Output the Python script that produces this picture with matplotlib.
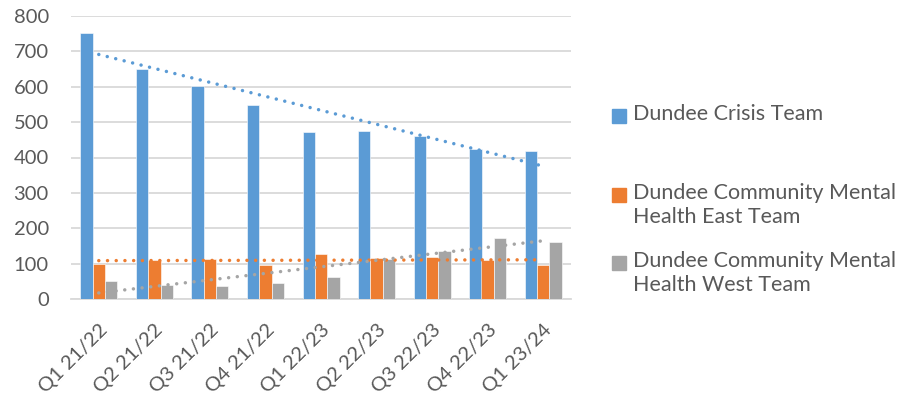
import matplotlib
matplotlib.use('Agg')

import matplotlib.pyplot as plt
import numpy as np
from matplotlib.patches import Rectangle

plt.rcParams['font.family'] = ['Lato', 'DejaVu Sans']

# data
quarters = ['Q1 21/22', 'Q2 21/22', 'Q3 21/22', 'Q4 21/22', 'Q1 22/23',
            'Q2 22/23', 'Q3 22/23', 'Q4 22/23', 'Q1 23/24']
crisis = [751, 650, 603, 548, 472, 475, 460, 423, 419]
east = [99, 110, 114, 96, 127, 116, 119, 110, 96]
west = [51, 40, 36, 46, 62, 113, 136, 173, 161]

series_names = ['Dundee Crisis Team',
                'Dundee Community Mental\nHealth East Team',
                'Dundee Community Mental\nHealth West Team']
series_colors = ['#5B9BD5', '#ED7D31', '#A5A5A5']
text_color = '#595959'
grid_color = '#D9D9D9'

fig = plt.figure(figsize=(9.11, 4.05), dpi=100)
ax = fig.add_axes([71 / 911, 1 - 299 / 405, 500 / 911, 283 / 405])

x = np.arange(len(quarters))
bar_w = 0.222
all_series = [crisis, east, west]
for i in range(len(all_series)):
    ax.bar(x + (i - 1) * bar_w, all_series[i], width=bar_w,
           color=series_colors[i], edgecolor='white', linewidth=0.4, zorder=3)

# linear trendlines
for i in range(len(all_series)):
    k, b = np.polyfit(x, all_series[i], 1)
    ax.plot(x, k * x + b, color=series_colors[i], linewidth=2.5,
            linestyle=(0, (0.01, 2.5)), dash_capstyle='round', zorder=4)

ax.set_xlim(-0.5, len(quarters) - 0.5)
ax.set_ylim(0, 800)
ax.set_yticks(np.arange(0, 801, 100))
ax.set_xticks(x)
ax.set_xticklabels(quarters, rotation=45, ha='right', va='top',
                   rotation_mode='anchor')

ax.grid(axis='y', color=grid_color, linewidth=1.3, zorder=0)
ax.set_axisbelow(True)
for side in ['top', 'right', 'left']:
    ax.spines[side].set_visible(False)
ax.spines['bottom'].set_color(grid_color)
ax.spines['bottom'].set_linewidth(1.3)
ax.tick_params(axis='both', length=0, labelsize=14.5, labelcolor=text_color)
ax.tick_params(axis='y', pad=16)
ax.tick_params(axis='x', pad=16)

# legend drawn by hand to copy the Excel layout
legend_y = [116, 195, 263]
for i in range(len(series_names)):
    yc = 1 - legend_y[i] / 405
    fig.patches.append(Rectangle((612 / 911, yc - 7 / 405), 14 / 911, 14 / 405,
                                 transform=fig.transFigure, color=series_colors[i]))
    fig.text(633 / 911, yc + 12 / 405, series_names[i], fontsize=15.5,
             color=text_color, va='top', ha='left', linespacing=1.28)

plt.savefig('out.png', dpi=100)
